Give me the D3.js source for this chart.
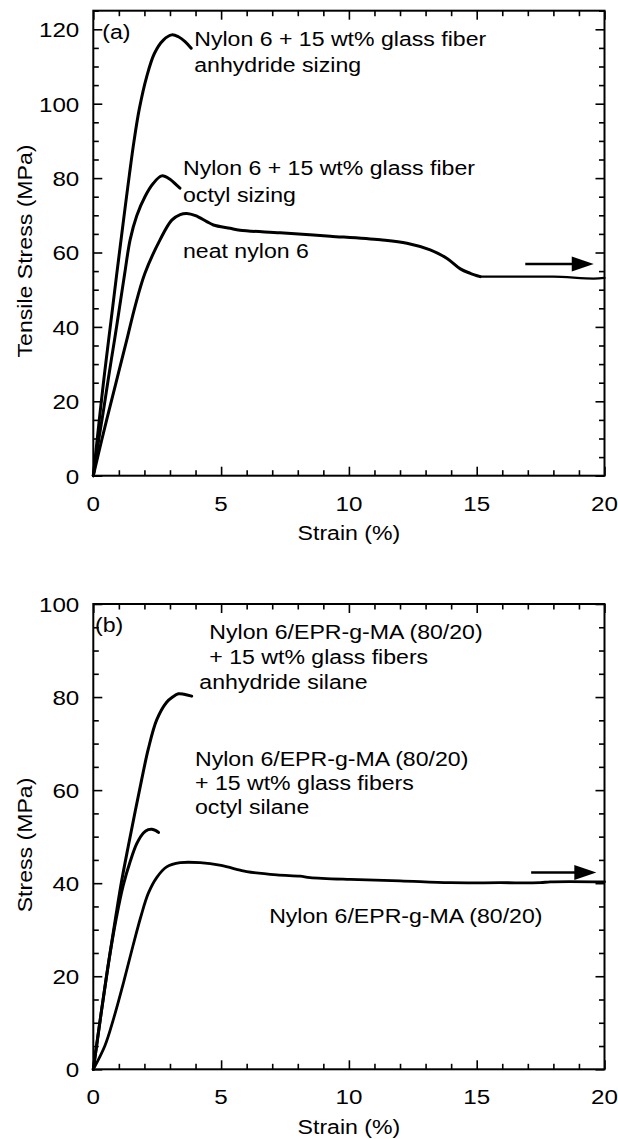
<!DOCTYPE html>
<html><head><meta charset="utf-8">
<script src="https://cdn.jsdelivr.net/npm/d3@7"></script>
<style>
body{margin:0;background:#fff}
svg{display:block}
text{font-family:"Liberation Sans", Arial, Helvetica, sans-serif; fill:#000}
</style>
</head><body>
<svg id="c" width="618" height="1139"></svg>
<script>
// ---------------- data ----------------
const strainTicks = [0, 5, 10, 15, 20];
const stressTicksA = [0, 20, 40, 60, 80, 100, 120];
const stressTicksB = [0, 20, 40, 60, 80, 100];

// panel (a): [strain %, stress MPa]
const nylonGFAnhydride = [[0,0],[0.15,9.6],[0.29,18.5],[0.44,27.5],[0.6,36.5],[0.76,45.4],[0.92,54.4],[1.06,62.0],[1.24,71.8],[1.41,80.8],[1.59,89.8],[1.80,98.6],[2.09,107.3],[2.39,113.5],[2.74,117.1],[3.07,118.5],[3.33,118.0],[3.59,116.7],[3.83,114.9]];
const nylonGFOctyl = [[0,0],[0.21,9.6],[0.42,18.5],[0.62,27.5],[0.83,36.5],[1.03,45.4],[1.23,54.4],[1.44,63.4],[1.70,69.9],[2.02,75.0],[2.35,78.6],[2.68,80.6],[3.0,79.7],[3.26,78.1],[3.39,77.3]];
const neatNylon = [[0,0],[0.33,9.6],[0.65,18.5],[0.98,27.5],[1.31,36.5],[1.63,45.4],[2.02,54.4],[2.61,63.4],[3.07,68.7],[3.4,70.2],[3.66,70.5],[4.0,69.9],[4.44,68.3],[4.7,67.4],[5.35,66.5],[5.74,66.0],[7.31,65.3],[9.27,64.4],[11.23,63.4],[12.27,62.5],[13.18,60.7],[13.84,58.4],[14.36,55.6],[14.75,54.4],[15.14,53.5],[16.45,53.5],[18.0,53.5],[19.58,53.0],[20,53.2]];

// panel (b)
const blendGFAnhydride = [[0,0],[0.3,11.8],[0.6,23.0],[0.89,33.2],[1.11,40.5],[1.37,48.0],[1.63,55.2],[1.89,62.2],[2.15,68.8],[2.48,75.1],[2.87,78.9],[3.1,80.0],[3.33,80.7],[3.55,80.6],[3.85,80.2]];
const blendGFOctyl = [[0,0],[0.3,11.8],[0.6,23.0],[0.9,32.5],[1.17,39.5],[1.44,44.6],[1.70,48.5],[1.96,50.8],[2.15,51.5],[2.29,51.6],[2.45,51.3],[2.55,50.9]];
const neatBlend = [[0,0],[0.45,5],[0.8,11],[1.2,19],[1.55,26.5],[1.87,33],[2.15,37.8],[2.48,41.2],[2.87,43.5],[3.4,44.4],[4.18,44.4],[5.0,43.8],[5.74,42.8],[6.0,42.5],[7.18,41.8],[8.09,41.5],[8.48,41.2],[10.05,40.8],[12.0,40.5],[13.96,40.1],[15.92,40.1],[17.49,40.1],[17.88,40.3],[20,40.3]];

const labelsA = ["Nylon 6 + 15 wt% glass fiber", "anhydride sizing", "Nylon 6 + 15 wt% glass fiber", "octyl sizing", "neat nylon 6"];
const labelsB = ["Nylon 6/EPR-g-MA (80/20)", "+ 15 wt% glass fibers", "anhydride silane", "Nylon 6/EPR-g-MA (80/20)", "+ 15 wt% glass fibers", "octyl silane", "Nylon 6/EPR-g-MA (80/20)"];

// ---------------- drawing ----------------
const svg = d3.select("#c");
svg.append("rect").attr("width", 618).attr("height", 1139).attr("fill", "#fff");

const TICK_SX = 1.18, TXT_SX = 1.1;
function txt(g, s, x, y, fs, sx, anchor, rot) {
  return g.append("text")
    .attr("transform", `translate(${x},${y})` + (rot ? " rotate(-90)" : "") + ` scale(${sx},1)`)
    .attr("font-size", fs).attr("text-anchor", anchor || "start").text(s);
}

function panel(cfg) {
  const x = d3.scaleLinear().domain([0, 20]).range([cfg.left, cfg.right]);
  const y = d3.scaleLinear().domain([0, cfg.ymax]).range([cfg.bottom, cfg.top]);
  const g = svg.append("g");
  const clean = sel => { sel.select(".domain").remove(); sel.selectAll(".tick line").attr("stroke", "#000").attr("stroke-width", 1.6); };
  const xMinor = d3.range(0, 21, 1).filter(v => v % 5 !== 0);
  const yMinor = d3.range(0, cfg.ymax + 0.01, 5).filter(v => v % 20 !== 0);
  const yMajor = d3.range(0, cfg.ymax + 0.01, 20);
  const specs = [
    [() => d3.axisBottom(x), xMinor, strainTicks, `translate(0,${cfg.bottom})`],
    [() => d3.axisTop(x), xMinor, strainTicks, `translate(0,${cfg.top})`],
    [() => d3.axisLeft(y), yMinor, yMajor, `translate(${cfg.left},0)`],
    [() => d3.axisRight(y), yMinor, yMajor, `translate(${cfg.right},0)`]
  ];
  specs.forEach(([mk, minor, major, tr]) => {
    g.append("g").attr("transform", tr).call(mk().tickValues(minor).tickSize(-5.5).tickFormat("")).call(clean);
    g.append("g").attr("transform", tr).call(mk().tickValues(major).tickSize(-9).tickFormat("")).call(clean);
  });
  g.append("rect").attr("x", cfg.left).attr("y", cfg.top)
    .attr("width", cfg.right - cfg.left).attr("height", cfg.bottom - cfg.top)
    .attr("fill", "none").attr("stroke", "#000").attr("stroke-width", 2);

  // tick labels
  strainTicks.forEach(v => txt(g, String(v), x(v), cfg.bottom + 35, 20.5, TICK_SX, "middle"));
  cfg.yTicks.forEach(v => txt(g, String(v), cfg.left - 14, y(v) + 7.8, 20.5, TICK_SX, "end"));
  // axis titles
  txt(g, "Strain (%)", (cfg.left + cfg.right) / 2, cfg.bottom + 64.5, 21, TXT_SX, "middle");
  txt(g, cfg.ytitle, 32, cfg.ytitleY, 21, TXT_SX, "middle", true);

  const line = d3.line().x(d => x(d[0])).y(d => y(d[1])).curve(d3.curveCatmullRom.alpha(0.5));
  const lines = g.append("g").attr("fill", "none").attr("stroke", "#000")
    .attr("stroke-linejoin", "round").attr("stroke-linecap", "round");
  cfg.series.forEach(s => {
    lines.append("path").attr("d", line(s.data)).attr("stroke-width", s.w || 3);
  });
  // arrow
  const a = cfg.arrow;
  const ay = y(a[2]), x0 = x(a[0]), x1 = x(a[1]);
  g.append("line").attr("x1", x0).attr("x2", x1 - 18).attr("y1", ay).attr("y2", ay)
    .attr("stroke", "#000").attr("stroke-width", 2.6);
  g.append("path").attr("d", `M${x1},${ay} L${x1 - 22},${ay - 7.5} L${x1 - 22},${ay + 7.5} Z`).attr("fill", "#000");
  // annotations
  txt(g, cfg.tag, x(cfg.tagPos[0]), y(cfg.tagPos[1]), 21, TXT_SX, "start");
  cfg.notes.forEach(n => txt(g, n.t, x(n.p[0]), y(n.p[1]), 21, TXT_SX, "start"));
  return {x, y};
}

panel({
  left: 93.3, right: 604.5, top: 10.7, bottom: 475.7, ymax: 125,
  yTicks: stressTicksA, ytitle: "Tensile Stress (MPa)", ytitleY: 251,
  series: [
    {data: nylonGFAnhydride}, {data: nylonGFOctyl},
    {data: neatNylon.filter(d => d[0] <= 15.14)},
    {data: neatNylon.filter(d => d[0] >= 15.14), w: 2.2}
  ],
  arrow: [16.9, 19.58, 56.9],
  tag: "(a)", tagPos: [0.35, 117.3],
  notes: [
    {t: labelsA[0], p: [3.95, 115.4]}, {t: labelsA[1], p: [3.95, 108.4]},
    {t: labelsA[2], p: [3.51, 80.7]}, {t: labelsA[3], p: [3.51, 73.7]},
    {t: labelsA[4], p: [3.51, 58.4]}
  ]
});

panel({
  left: 93.3, right: 604.5, top: 604, bottom: 1069.3, ymax: 100,
  yTicks: stressTicksB, ytitle: "Stress (MPa)", ytitleY: 845,
  series: [{data: blendGFAnhydride}, {data: blendGFOctyl}, {data: neatBlend, w: 2.8}],
  arrow: [17.13, 19.68, 42.3],
  tag: "(b)", tagPos: [0.07, 94],
  notes: [
    {t: labelsB[0], p: [4.54, 92.5]}, {t: labelsB[1], p: [4.54, 87.1]}, {t: labelsB[2], p: [4.15, 81.7]},
    {t: labelsB[3], p: [3.98, 65.2]}, {t: labelsB[4], p: [3.98, 60.0]}, {t: labelsB[5], p: [3.98, 54.9]},
    {t: labelsB[6], p: [6.88, 31.4]}
  ]
});
</script>
</body></html>
